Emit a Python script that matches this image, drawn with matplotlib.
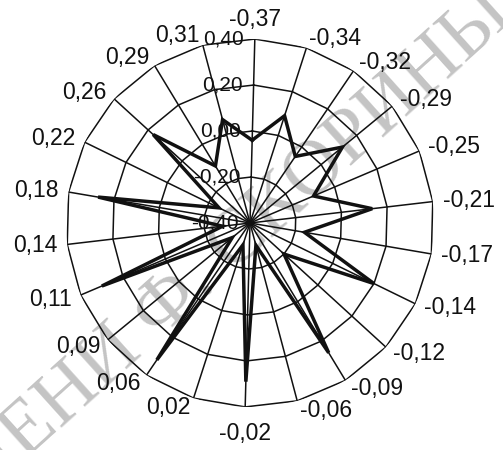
import numpy as np
import matplotlib.pyplot as plt

# spoke labels, clockwise from the top
categories = ['-0,37', '-0,34', '-0,32', '-0,29', '-0,25', '-0,21', '-0,17',
              '-0,14', '-0,12', '-0,09', '-0,06', '-0,02', '0,02', '0,06',
              '0,09', '0,11', '0,14', '0,18', '0,22', '0,26', '0,29', '0,31']
values = [-0.04, 0.09, -0.05, 0.12, -0.10, 0.135, -0.16, 0.20, -0.20, 0.26,
          -0.30, 0.29, -0.30, 0.32, -0.30, 0.30, -0.28, 0.27, -0.25, 0.17,
          -0.11, 0.065]
rings = [-0.4, -0.2, 0.0, 0.2, 0.4]
ring_labels = ['-0,40', '-0,20', '0,00', '0,20', '0,40']

plt.rcParams['font.family'] = 'Liberation Sans'

fig = plt.figure(figsize=(5.03, 4.5), dpi=100)
ax = fig.add_axes([66 / 503, 43 / 450, 368 / 503, 368 / 450], projection='polar')
ax.set_theta_zero_location('N', offset=-1.5)
ax.set_theta_direction(-1)
ax.set_ylim(rings[0], rings[-1])
ax.grid(False)
ax.spines['polar'].set_visible(False)
ax.set_xticks([])
ax.set_yticks([])
ax.patch.set_alpha(0)

n = len(categories)
angles = np.linspace(0, 2 * np.pi, n, endpoint=False)
closed = np.append(angles, angles[0])

# polygon grid like a spreadsheet radar chart
for r in rings[1:]:
    ax.plot(closed, [r] * (n + 1), color='#111111', lw=1.1)
for a in angles:
    ax.plot([a, a], [rings[0], rings[-1]], color='#111111', lw=1.1)

ax.plot(closed, values + [values[0]], color='#111111', lw=2.5,
        solid_joinstyle='miter')

# category labels outside the outer polygon
for a, lab in zip(angles, categories):
    s, c = np.sin(a), np.cos(a)
    if abs(s) < 0.05:
        ha = 'center'
        va = 'bottom' if c > 0 else 'top'
        off = (0, 8 if c > 0 else -15)
    else:
        ha = 'left' if s > 0 else 'right'
        va = 'center'
        off = (10 * s, 10 * c)
    ax.annotate(lab, xy=(a, rings[-1]), xytext=off, textcoords='offset pixels',
                ha=ha, va=va, fontsize=16.5, color='#111111')

# radial value labels along the top spoke
for r, lab in zip(rings, ring_labels):
    ax.annotate(lab, xy=(0, r), xytext=(-11, 0), textcoords='offset pixels',
                ha='right', va='center', fontsize=15, color='#111111')

# faint diagonal watermark behind the chart
wm = dict(rotation=42, rotation_mode='anchor', va='center', fontsize=56,
          family='Liberation Serif', color='#c4c4c4', zorder=-1)
fig.text(145 / 503, 1 - 326 / 450, 'ГГУ ИМЕНИ ', ha='right', **wm)
fig.text(145 / 503, 1 - 326 / 450, 'Ф. СКОРИНЫ', ha='left', **wm)

fig.savefig('out.png', dpi=100, facecolor='white')
